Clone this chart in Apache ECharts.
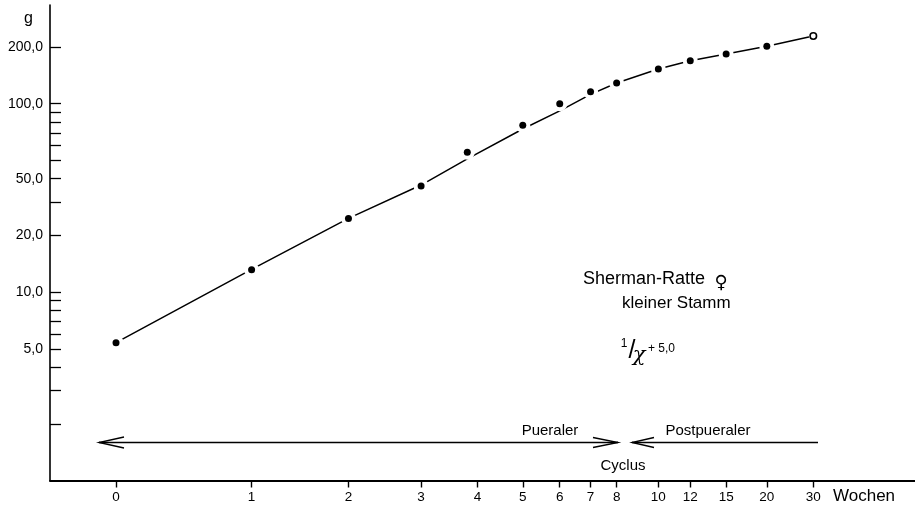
<!DOCTYPE html>
<html>
<head>
<meta charset="utf-8">
<script src="https://cdn.jsdelivr.net/npm/echarts@6/dist/echarts.min.js"></script>
<style>
  html, body { margin: 0; padding: 0; background: #fff; }
  #chart { width: 915px; height: 512px; }
</style>
</head>
<body>
<div id="chart"></div>
<script>
// Körpergewicht (g) der weiblichen Sherman-Ratte, kleiner Stamm, gegen Alter in Wochen
const weeks = [0, 1, 2, 3, 3.8, 5, 6, 7, 8, 10, 12, 15, 20, 30];
const grams = [5.39, 13.15, 24.6, 36.6, 55.2, 76.8, 99.9, 115.8, 128.8, 152.8, 169.1, 183.6, 201.7, 228.8];

// Ausgleichskurve
const fitWeeks = [0, 1, 2, 3, 3.8, 5, 6, 7, 8, 10, 12, 15, 20, 30];
const fitGrams = [5.39, 13.2, 24.6, 37, 50.9, 73.4, 91.5, 112, 128.8, 152.8, 169.1, 183.6, 201.7, 228.8];

// Achsenteilung
const xTickWeeks = [0, 1, 2, 3, 4, 5, 6, 7, 8, 10, 12, 15, 20, 30];
const yTickVals  = [5, 10, 20, 40, 100, 200];
const yTickText  = ['5,0', '10,0', '20,0', '50,0', '100,0', '200,0'];
const yMinorTicks = [2, 3, 4, 5, 6, 7, 8, 9, 10, 20, 30, 40, 50, 60, 70, 80, 90, 100, 200];

// Zeitachse reziprok: 1/(x + 5,0)
const toU = w => -1 / (w + 5);
const fromU = u => -1 / u - 5;

const FONT = 'Liberation Sans, Arial, sans-serif';
const INK = '#000';

const lastIdx = weeks.length - 1;
const pts = weeks.map((w, i) => {
  const item = { value: [toU(w), grams[i]] };
  if (i === lastIdx) {
    item.itemStyle = { color: '#fff', borderColor: INK, borderWidth: 1.6, opacity: 1 };
    item.symbolSize = 6.5;
  }
  return item;
});
const halo = weeks.map((w, i) => ({
  value: [toU(w), grams[i]],
  symbolSize: i === lastIdx ? 9 : 15
}));
const fit = fitWeeks.map((w, i) => [toU(w), fitGrams[i]]);

const chart = echarts.init(document.getElementById('chart'), null, { renderer: 'canvas' });

function arrowHead(tipX, y, dir, len, spread) {
  return {
    type: 'polyline',
    shape: { points: [[tipX + dir * len, y - spread], [tipX, y], [tipX + dir * len, y + spread]] },
    style: { stroke: INK, lineWidth: 1.3, fill: null },
    z: 10
  };
}

chart.setOption({
  animation: false,
  backgroundColor: '#fff',
  grid: { left: 50, right: 0, top: 5, bottom: 31.5 },
  xAxis: {
    type: 'value',
    min: -0.21623,
    max: -0.00357,
    axisLine: { show: true, onZero: false, lineStyle: { color: INK, width: 2 } },
    axisTick: {
      show: true, length: 7, customValues: xTickWeeks.map(toU),
      lineStyle: { color: INK, width: 1.4 }
    },
    axisLabel: {
      customValues: xTickWeeks.map(toU),
      formatter: v => String(Math.round(fromU(v))),
      color: INK, fontFamily: FONT, fontSize: 13.5, margin: 10
    },
    splitLine: { show: false }
  },
  yAxis: {
    type: 'log',
    logBase: 10,
    min: 1,
    max: 334,
    axisLine: { show: true, lineStyle: { color: INK, width: 1.6 } },
    axisTick: {
      show: true, inside: true, length: 11, customValues: yMinorTicks,
      lineStyle: { color: INK, width: 1.3 }
    },
    minorTick: { show: false },
    axisLabel: {
      customValues: yTickVals,
      formatter: v => {
        let best = 0;
        yTickVals.forEach((t, i) => {
          if (Math.abs(Math.log(t / v)) < Math.abs(Math.log(yTickVals[best] / v))) best = i;
        });
        return yTickText[best];
      },
      color: INK, fontFamily: FONT, fontSize: 14, margin: 7
    },
    splitLine: { show: false }
  },
  series: [
    {
      type: 'line',
      data: fit,
      showSymbol: false,
      lineStyle: { color: INK, width: 1.5 },
      z: 2,
      silent: true
    },
    {
      type: 'scatter',
      data: halo,
      symbol: 'circle',
      itemStyle: { color: '#fff', opacity: 1 },
      z: 3,
      silent: true
    },
    {
      type: 'scatter',
      data: pts,
      symbol: 'circle',
      symbolSize: 7,
      itemStyle: { color: INK, opacity: 1 },
      z: 4
    }
  ],
  graphic: [
    { type: 'text', left: 24, top: 11, style: { text: 'g', font: '16px ' + FONT, fill: INK } },
    { type: 'text', left: 833, top: 488, style: { text: 'Wochen', font: '17px ' + FONT, fill: INK } },

    // Zyklus-Pfeile
    { type: 'line', shape: { x1: 99, y1: 442.5, x2: 618, y2: 442.5 }, style: { stroke: INK, lineWidth: 1.3 }, z: 10 },
    arrowHead(99, 442.5, 1, 25, 5.5),
    arrowHead(618, 442.5, -1, 25, 5),
    { type: 'line', shape: { x1: 632, y1: 442.5, x2: 818, y2: 442.5 }, style: { stroke: INK, lineWidth: 1.3 }, z: 10 },
    arrowHead(632, 442.5, 1, 22, 5),
    { type: 'text', x: 550, y: 431, style: { text: 'Pueraler', font: '15px ' + FONT, fill: INK, align: 'center', verticalAlign: 'middle' } },
    { type: 'text', x: 708, y: 431, style: { text: 'Postpueraler', font: '15px ' + FONT, fill: INK, align: 'center', verticalAlign: 'middle' } },
    { type: 'text', x: 623, y: 466, style: { text: 'Cyclus', font: '15px ' + FONT, fill: INK, align: 'center', verticalAlign: 'middle' } },

    // Legende
    { type: 'text', x: 583, y: 279, style: { text: 'Sherman-Ratte', font: '18px ' + FONT, fill: INK, verticalAlign: 'middle' } },
    { type: 'text', x: 721, y: 283, style: { text: '♀', font: 'bold 18px DejaVu Sans', fill: INK, align: 'center', verticalAlign: 'middle' } },
    { type: 'text', x: 622, y: 303, style: { text: 'kleiner Stamm', font: '17px ' + FONT, fill: INK, verticalAlign: 'middle' } },

    { type: 'text', x: 624, y: 344, style: { text: '1', font: '12px ' + FONT, fill: INK, align: 'center', verticalAlign: 'middle' } },
    { type: 'text', x: 632, y: 351, style: { text: '/', font: '25px ' + FONT, fill: INK, align: 'center', verticalAlign: 'middle' } },
    { type: 'text', x: 639, y: 356, style: { text: 'χ', font: 'italic 21px DejaVu Serif', fill: INK, align: 'center', verticalAlign: 'middle' } },
    { type: 'text', x: 648, y: 349, style: { text: '+ 5,0', font: '12px ' + FONT, fill: INK, verticalAlign: 'middle' } }
  ]
});
</script>
</body>
</html>
